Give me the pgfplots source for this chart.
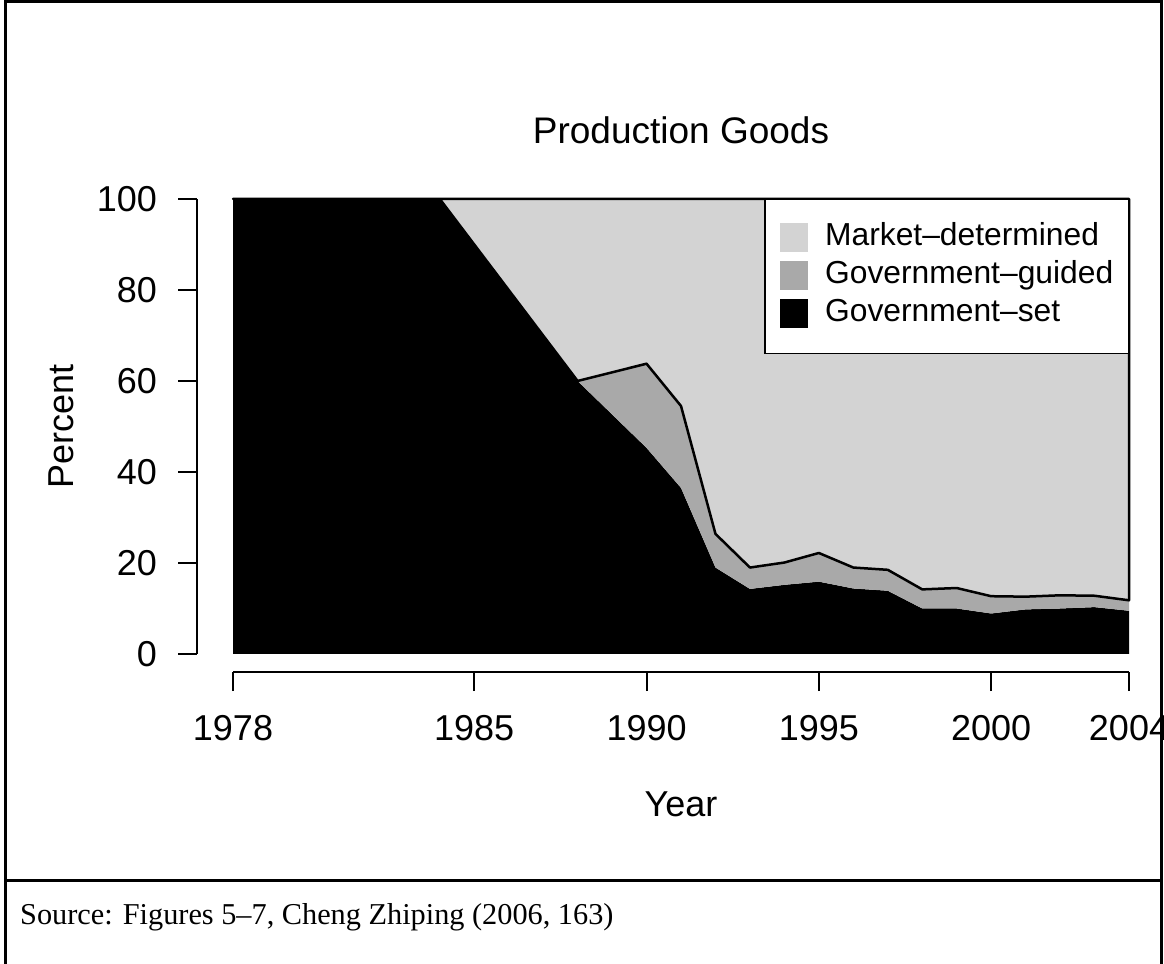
\documentclass[border=0pt]{standalone}
\usepackage{fontspec}
\setmainfont{Liberation Sans}
\newfontfamily\srcfont{Liberation Serif}
\usepackage{pgfplots}
\pgfplotsset{compat=1.18}
\definecolor{mkt}{HTML}{D3D3D3}
\definecolor{gd}{HTML}{A9A9A9}
\begin{document}
\begin{tikzpicture}[x=1bp,y=1bp]
\useasboundingbox (0,0) rectangle (1164,964);
\begin{axis}[
  at={(197.16bp,291.8bp)}, anchor=south west,
  scale only axis, width=967.68bp, height=491.4bp,
  xmin=1976.96, xmax=2005.04, ymin=-4, ymax=104,
  axis x line*=bottom, axis y line*=left,
  axis line style={draw=none,-},
  xtick={1978,1985,1990,1995,2000,2004},
  ytick={0,20,40,60,80,100},
  tick align=outside, major tick length=19bp,
  tick style={line width=2bp, black},
  /pgf/number format/1000 sep={},
  /pgf/number format/assume math mode=true,
  ticklabel style={font=\fontsize{36bp}{40bp}\selectfont},
  xticklabel style={inner sep=0bp, anchor=north, yshift=-24bp},
  yticklabel style={inner sep=0bp, anchor=east, xshift=-21bp},
  clip=false,
  legend style={at={(axis cs:2004,100)}, anchor=north east, draw=black, line width=1.5bp,
    fill=white, inner xsep=15bp, inner ysep=20bp,
    font=\fontsize{31.8bp}{38bp}\selectfont,
    nodes={inner sep=0bp, text height=26bp, text depth=12bp, anchor=base west},
    column sep=17bp, row sep=0bp},
  legend cell align=left,
  legend image code/.code={\fill[#1, draw=none] (0bp,-6bp) rectangle (28bp,23bp);},
]
% Government-set (black)
\addplot[fill=black, draw=none, forget plot] coordinates {
(1978,0) (1978,100) (1984,100) (1988,60) (1990,45.3) (1991,36.5) (1992,19.0)
(1993,14.3) (1994,15.2) (1995,15.9) (1996,14.4) (1997,13.9) (1998,10.0)
(1999,10.0) (2000,8.9) (2001,9.8) (2002,10.0) (2003,10.3) (2004,9.5) (2004,0)} -- cycle;
% Government-guided (between set and total)
\addplot[fill=gd, draw=none, forget plot] coordinates {
(1988,60) (1990,63.8) (1991,54.5) (1992,26.4) (1993,19.0) (1994,20.1) (1995,22.2)
(1996,19.0) (1997,18.5) (1998,14.2) (1999,14.5) (2000,12.7) (2001,12.6)
(2002,12.9) (2003,12.8) (2004,11.8)
(2004,9.5) (2003,10.3) (2002,10.0) (2001,9.8) (2000,8.9) (1999,10.0) (1998,10.0)
(1997,13.9) (1996,14.4) (1995,15.9) (1994,15.2) (1993,14.3) (1992,19.0)
(1991,36.5) (1990,45.3)} -- cycle;
% Market-determined (above total)
\addplot[fill=mkt, draw=black, line width=2.5bp, line join=round, forget plot] coordinates {
(1978,100) (2004,100) (2004,11.8) (2003,12.8) (2002,12.9) (2001,12.6) (2000,12.7)
(1999,14.5) (1998,14.2) (1997,18.5) (1996,19.0) (1995,22.2) (1994,20.1)
(1993,19.0) (1992,26.4) (1991,54.5) (1990,63.8) (1988,60) (1984,100)} -- cycle;
\draw[line width=2bp] (axis cs:1976.96,0) -- (axis cs:1976.96,100);
\draw[line width=2bp] (axis cs:1978,-4) -- (axis cs:2004,-4);
\addlegendimage{fill=mkt}\addlegendentry{Market–determined}
\addlegendimage{fill=gd}\addlegendentry{Government–guided}
\addlegendimage{fill=black}\addlegendentry{Government–set}
\end{axis}
\node[anchor=base, font=\fontsize{37bp}{42bp}\selectfont] at (681,820) {Production Goods};
\node[anchor=base, font=\fontsize{36bp}{40bp}\selectfont] at (681,147) {Year};
\node[anchor=base, rotate=90, font=\fontsize{36bp}{40bp}\selectfont] at (73,537.5) {Percent};
\node[anchor=base west, inner sep=0bp, font=\srcfont\fontsize{30.3bp}{34bp}\selectfont] at (20,39) {Source: Figures 5–7, Cheng Zhiping (2006, 163)};
\draw[line width=3bp] (5.5,-10) -- (5.5,962) -- (1161.5,962) -- (1161.5,-10);
\draw[line width=3bp] (5.5,83.3) -- (1161.5,83.3);
\end{tikzpicture}
\end{document}
